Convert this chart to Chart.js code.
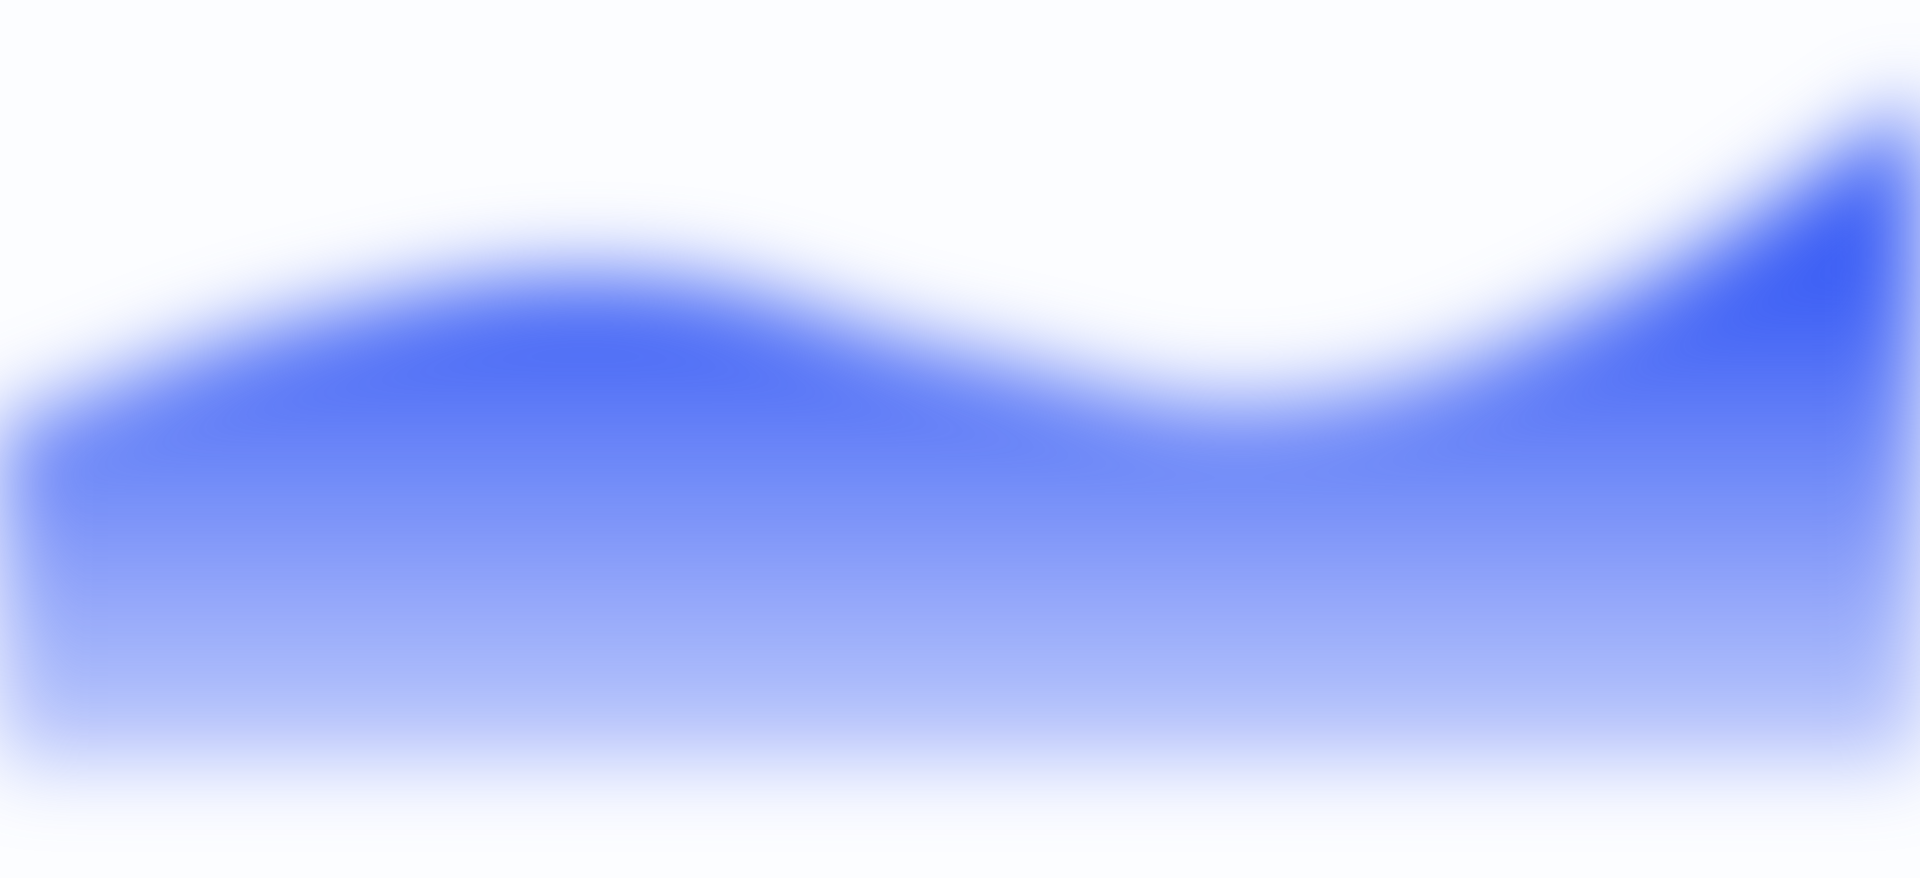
<!DOCTYPE html>
<html>
<head>
<meta charset="utf-8">
<script src="https://cdn.jsdelivr.net/npm/chart.js@4.4.1/dist/chart.umd.min.js"></script>
<style>
  html, body { margin: 0; padding: 0; background: #fcfdff; overflow: hidden; }
  #wrap { position: absolute; left: 0; top: 0; width: 1920px; height: 878px; }
  #c { filter: blur(40px); }
</style>
</head>
<body>
<div id="wrap"><canvas id="c"></canvas></div>
<script>
const labels = ['Mon', 'Tue', 'Wed', 'Thu', 'Fri', 'Sat', 'Sun'];
const values = [44.0, 58.5, 63.5, 53.5, 47.0, 60.0, 86.5];
const yMin = 0;
const yMax = 100;

const ctx = document.getElementById('c').getContext('2d');
new Chart(ctx, {
  type: 'line',
  data: {
    labels: labels,
    datasets: [{
      data: values,
      fill: 'start',
      tension: 0.4,
      borderColor: 'rgb(59,94,245)',
      borderWidth: 3,
      pointRadius: 0,
      backgroundColor: function(context) {
        const chart = context.chart;
        const area = chart.chartArea;
        if (!area) return 'rgba(59,94,245,0.6)';
        const g = chart.ctx.createLinearGradient(0, area.top, 0, area.bottom);
        g.addColorStop(0, 'rgba(59,94,245,1)');
        g.addColorStop(0.37, 'rgba(59,94,245,1)');
        g.addColorStop(1, 'rgba(59,94,245,0.3)');
        return g;
      }
    }]
  },
  options: {
    responsive: true,
    maintainAspectRatio: false,
    animation: false,
    layout: { padding: { left: 0, right: 0, top: 0, bottom: 113 } },
    plugins: { legend: { display: false }, tooltip: { enabled: false } },
    scales: {
      x: { display: false, offset: false },
      y: { display: false, min: yMin, max: yMax }
    }
  }
});
</script>
</body>
</html>
